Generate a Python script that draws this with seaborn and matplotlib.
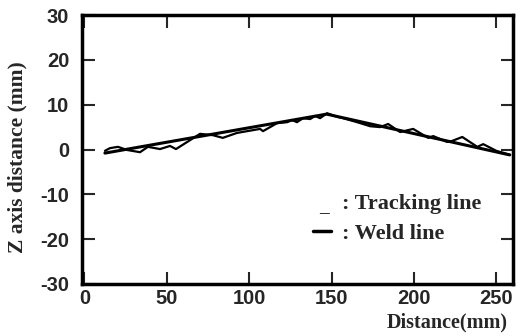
import numpy as np
import pandas as pd
import matplotlib
matplotlib.use("Agg")
import matplotlib.pyplot as plt
from matplotlib.lines import Line2D
import seaborn as sns

# weld line (straight segments)
weld_x = [12.5, 147.0, 258.0]
weld_z = [-0.8, 7.9, -1.2]

# tracking line (zigzag)
track_x = [12.5, 15.5, 20.4, 25.9, 33.8, 38.6, 45.9, 52.0, 55.6, 70.2, 78.0, 84.0,
           92.6, 106.6, 108.4, 117.0, 123.0, 126.0, 129.0, 132.7, 137.0, 140.0,
           143.0, 147.3, 153.4, 157.0, 165.5, 173.4, 179.5, 184.3, 191.6, 199.5,
           208.6, 211.7, 220.0, 223.0, 229.3, 238.4, 242.0, 250.0, 258.4]
track_z = [-0.3, 0.3, 0.6, -0.1, -0.6, 0.6, 0.1, 0.8, 0.1, 3.5, 3.2, 2.6,
           3.7, 4.6, 4.1, 5.9, 6.1, 6.6, 6.1, 7.0, 6.8, 7.5,
           7.0, 8.1, 7.3, 7.0, 6.1, 5.2, 5.0, 5.7, 3.9, 4.6,
           2.6, 3.0, 1.7, 1.9, 2.8, 0.6, 1.2, -0.3, -1.2]

x_ticks = [0, 50, 100, 150, 200, 250]
y_ticks = [-30, -20, -10, 0, 10, 20, 30]

sns.set_style("ticks")
plt.rcParams['font.family'] = ['Liberation Sans', 'DejaVu Sans']
plt.rcParams['axes.unicode_minus'] = False

fig = plt.figure(figsize=(5.28, 3.36), dpi=100)
ax = fig.add_axes([0.155, 0.155, 0.817, 0.80])

sns.lineplot(x=track_x, y=track_z, ax=ax, color='black', lw=1.6, sort=False)
sns.lineplot(x=weld_x, y=weld_z, ax=ax, color='black', lw=2.2, sort=False)

ax.set_xlim(-1.5, 260.2)
ax.set_ylim(-30, 30)
ax.set_xticks(x_ticks)
ax.set_yticks(y_ticks)
ax.tick_params(direction='in', length=9, width=1.5, top=True, right=True,
               labelsize=14.5)
ax.tick_params(axis='y', pad=9)
ax.tick_params(axis='x', pad=4)
for lab in ax.get_xticklabels() + ax.get_yticklabels():
    lab.set_fontweight('bold')
for s in ax.spines.values():
    s.set_linewidth(2.5)
    s.set_color('black')

serif = ['Liberation Serif', 'DejaVu Serif']
ax.set_ylabel('Z axis distance (mm)', fontfamily=serif, fontweight='bold', fontsize=15.5)
ax.yaxis.set_label_coords(-0.125, 0.47)
fig.text(0.962, 1 - 322 / 336, 'Distance(mm)', ha='right', va='center',
         fontfamily=serif, fontweight='bold', fontsize=14.5)

# legend written as text, like the original figure
fig.text(329 / 528, 1 - 212 / 336, '_', ha='right', va='baseline',
         fontfamily=serif, fontweight='bold', fontsize=14)
fig.add_artist(Line2D([313 / 528, 331 / 528], [1 - 231 / 336, 1 - 231 / 336],
                      color='black', lw=2.5, transform=fig.transFigure))
fig.text(342 / 528, 1 - 209 / 336, ': Tracking line', ha='left', va='baseline',
         fontfamily=serif, fontweight='bold', fontsize=16)
fig.text(342 / 528, 1 - 239 / 336, ': Weld line', ha='left', va='baseline',
         fontfamily=serif, fontweight='bold', fontsize=16)

fig.savefig('out.png', dpi=100)
